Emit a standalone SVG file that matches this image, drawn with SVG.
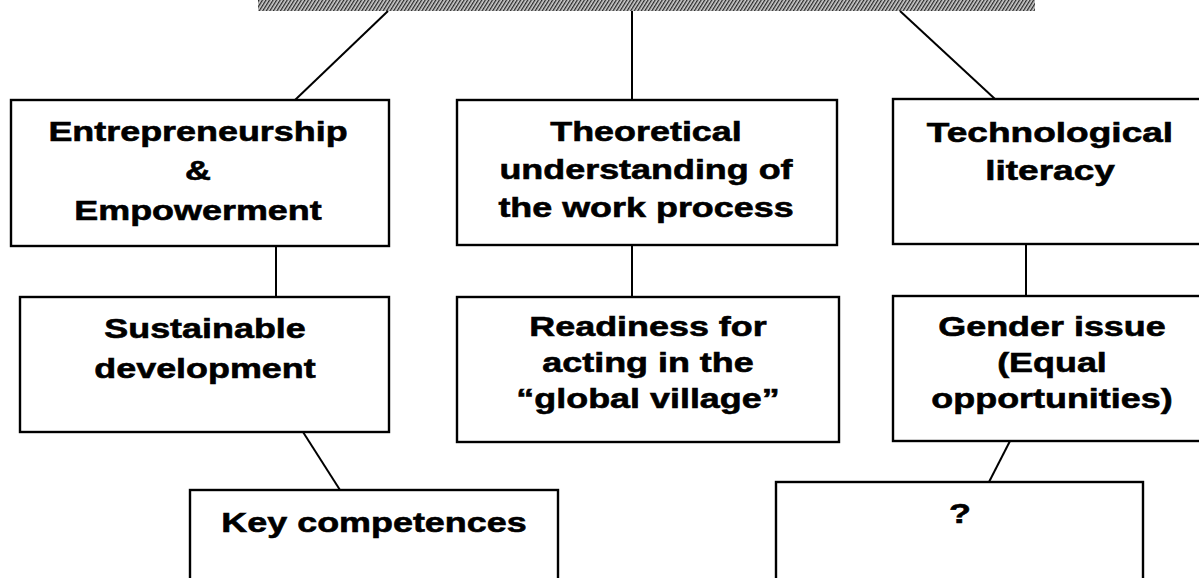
<svg xmlns="http://www.w3.org/2000/svg" width="1199" height="578" viewBox="0 0 1199 578">
  <style>
    .box { fill: #fff; stroke: #000; stroke-width: 2.4; }
    .lbl { font-family: "Liberation Sans", Arial, sans-serif; font-weight: bold; font-size: 28.5px; fill: #000; stroke: #000; stroke-width: 0.6; text-anchor: middle; }
    .conn line { stroke: #000; stroke-width: 2; }
  </style>
  <defs>
    <pattern id="hatch" width="3" height="3" patternUnits="userSpaceOnUse" patternTransform="rotate(32)">
      <rect width="3" height="3" fill="#cfcfcf"/>
      <rect width="1.3" height="3" fill="#2a2a2a"/>
    </pattern>
  </defs>
  <rect width="1199" height="578" fill="#fff"/>

  <g id="top-band">
    <rect x="258" y="0" width="777" height="11" fill="url(#hatch)"/>
  </g>

  <g id="connectors" class="conn">
    <line x1="388" y1="11" x2="295" y2="100"/>
    <line x1="632" y1="11" x2="632" y2="100"/>
    <line x1="900" y1="11" x2="995" y2="99"/>
    <line x1="276" y1="246" x2="276" y2="297"/>
    <line x1="632" y1="245" x2="632" y2="297"/>
    <line x1="1026" y1="244" x2="1026" y2="296"/>
    <line x1="303" y1="432" x2="340" y2="490"/>
    <line x1="1010" y1="441" x2="989" y2="482"/>
  </g>

  <g id="node-entrepreneurship">
    <rect class="box" x="11" y="100" width="378" height="146"/>
    <g transform="translate(198 0) scale(1.26 1)">
      <text class="lbl"><tspan x="0" y="141">Entrepreneurship</tspan><tspan x="0" y="180">&amp;</tspan><tspan x="0" y="220">Empowerment</tspan></text>
    </g>
  </g>

  <g id="node-theoretical">
    <rect class="box" x="457" y="100" width="380" height="145"/>
    <g transform="translate(646 0) scale(1.26 1)">
      <text class="lbl"><tspan x="0" y="141">Theoretical</tspan><tspan x="0" y="179">understanding of</tspan><tspan x="0" y="217">the work process</tspan></text>
    </g>
  </g>

  <g id="node-technological">
    <rect class="box" x="893" y="99" width="320" height="145"/>
    <g transform="translate(1050 0) scale(1.3 1)">
      <text class="lbl"><tspan x="0" y="142">Technological</tspan><tspan x="0" y="180">literacy</tspan></text>
    </g>
  </g>

  <g id="node-sustainable">
    <rect class="box" x="20" y="297" width="369" height="135"/>
    <g transform="translate(205 0) scale(1.26 1)">
      <text class="lbl"><tspan x="0" y="338">Sustainable</tspan><tspan x="0" y="378">development</tspan></text>
    </g>
  </g>

  <g id="node-readiness">
    <rect class="box" x="457" y="297" width="382" height="145"/>
    <g transform="translate(648 0) scale(1.26 1)">
      <text class="lbl"><tspan x="0" y="336">Readiness for</tspan><tspan x="0" y="372">acting in the</tspan><tspan x="0" y="408">“global village”</tspan></text>
    </g>
  </g>

  <g id="node-gender">
    <rect class="box" x="893" y="296" width="320" height="145"/>
    <g transform="translate(1052 0) scale(1.26 1)">
      <text class="lbl"><tspan x="0" y="336">Gender issue</tspan><tspan x="0" y="372">(Equal</tspan><tspan x="0" y="408">opportunities)</tspan></text>
    </g>
  </g>

  <g id="node-key-competences">
    <rect class="box" x="190" y="490" width="368" height="110"/>
    <g transform="translate(374 0) scale(1.26 1)">
      <text class="lbl" x="0" y="532">Key competences</text>
    </g>
  </g>

  <g id="node-unknown">
    <rect class="box" x="776" y="482" width="367" height="120"/>
    <g transform="translate(960 0) scale(1.26 1)">
      <text class="lbl" x="0" y="523">?</text>
    </g>
  </g>
</svg>
